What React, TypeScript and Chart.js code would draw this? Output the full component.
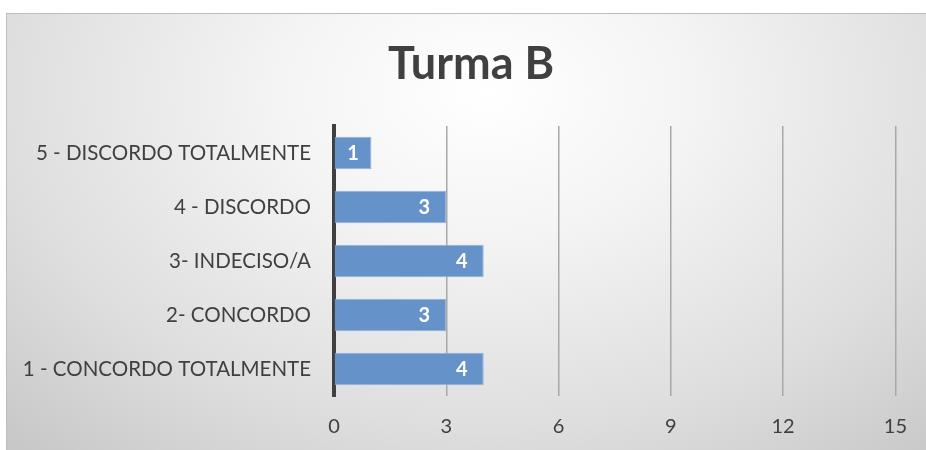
import React, { useEffect, useRef } from "react";
import { Chart, registerables } from "chart.js";

Chart.register(...registerables);

const categories = [
  "5 - DISCORDO TOTALMENTE",
  "4 - DISCORDO",
  "3- INDECISO/A",
  "2- CONCORDO",
  "1 - CONCORDO TOTALMENTE",
];
const values = [1, 3, 4, 3, 4];
const titleText = "Turma B";
const xMin = 0;
const xMax = 15;
const xStep = 3;

const FONT = "Lato, 'Open Sans', sans-serif";

const barLabels = {
  id: "barLabels",
  afterDatasetsDraw(chart: any) {
    const ctx = chart.ctx;
    const meta = chart.getDatasetMeta(0);
    ctx.save();
    ctx.fillStyle = "#ffffff";
    ctx.font = `bold 20px ${FONT}`;
    ctx.textAlign = "center";
    ctx.textBaseline = "middle";
    meta.data.forEach((el: any, i: number) => {
      const end = el.x;
      const base = el.base;
      const cx = Math.max(end - 22, (end + base) / 2);
      ctx.fillText(String(values[i]), cx, el.y + 1);
    });
    ctx.restore();
  },
};

const titlePlugin = {
  id: "customTitle",
  afterDraw(chart: any) {
    const ctx = chart.ctx;
    ctx.save();
    ctx.fillStyle = "#404040";
    ctx.font = `bold 45px ${FONT}`;
    ctx.textAlign = "center";
    ctx.textBaseline = "middle";
    ctx.fillText(titleText, 464, 50);
    ctx.restore();
  },
};

export default function App() {
  const ref = useRef<HTMLCanvasElement | null>(null);
  useEffect(() => {
    if (!ref.current) return;
    const chart = new Chart(ref.current, {
      type: "bar",
      data: {
        labels: categories,
        datasets: [
          {
            data: values,
            backgroundColor: "#6592c8",
            borderColor: "#8fb3e0",
            borderWidth: 1,
            categoryPercentage: 1,
            barPercentage: 0.6,
          },
        ],
      },
      options: {
        indexAxis: "y",
        responsive: false,
        animation: false,
        devicePixelRatio: 1,
        layout: { padding: { left: 0, right: 30, top: 112, bottom: 0 } },
        plugins: {
          legend: { display: false },
          tooltip: { enabled: false },
          title: { display: false },
        },
        scales: {
          x: {
            min: xMin,
            max: xMax,
            ticks: {
              stepSize: xStep,
              color: "#404040",
              font: { family: FONT, size: 20 },
              padding: 19,
            },
            grid: {
              drawTicks: false,
              color: (c: any) => (c.tick && c.tick.value === 0 ? "rgba(0,0,0,0)" : "#a8a8a8"),
              lineWidth: 1.5,
            },
            border: { display: false },
            afterFit: (s: any) => {
              s.height = 54;
            },
          },
          y: {
            ticks: {
              color: "#404040",
              font: { family: FONT, size: 20.5 },
              padding: 23,
            },
            grid: { display: false, drawTicks: false },
            border: { display: true, color: "#404040", width: 4 },
            afterFit: (s: any) => {
              s.width = 327;
            },
          },
        },
      },
      plugins: [barLabels, titlePlugin],
    });
    return () => chart.destroy();
  }, []);

  return (
    <div
      style={{
        position: "absolute",
        left: 6,
        top: 13,
        width: 920,
        height: 437,
        boxSizing: "border-box",
        borderTop: "1px solid #bdbdbd",
        borderLeft: "1px solid #bdbdbd",
        background:
          "radial-gradient(ellipse 75% 110% at 52% 18%, #ffffff 0%, #f4f4f4 30%, #dedede 70%, #c8c8c8 100%)",
        overflow: "hidden",
      }}
    >
      <canvas ref={ref} width={919} height={436} style={{ display: "block" }} />
    </div>
  );
}
